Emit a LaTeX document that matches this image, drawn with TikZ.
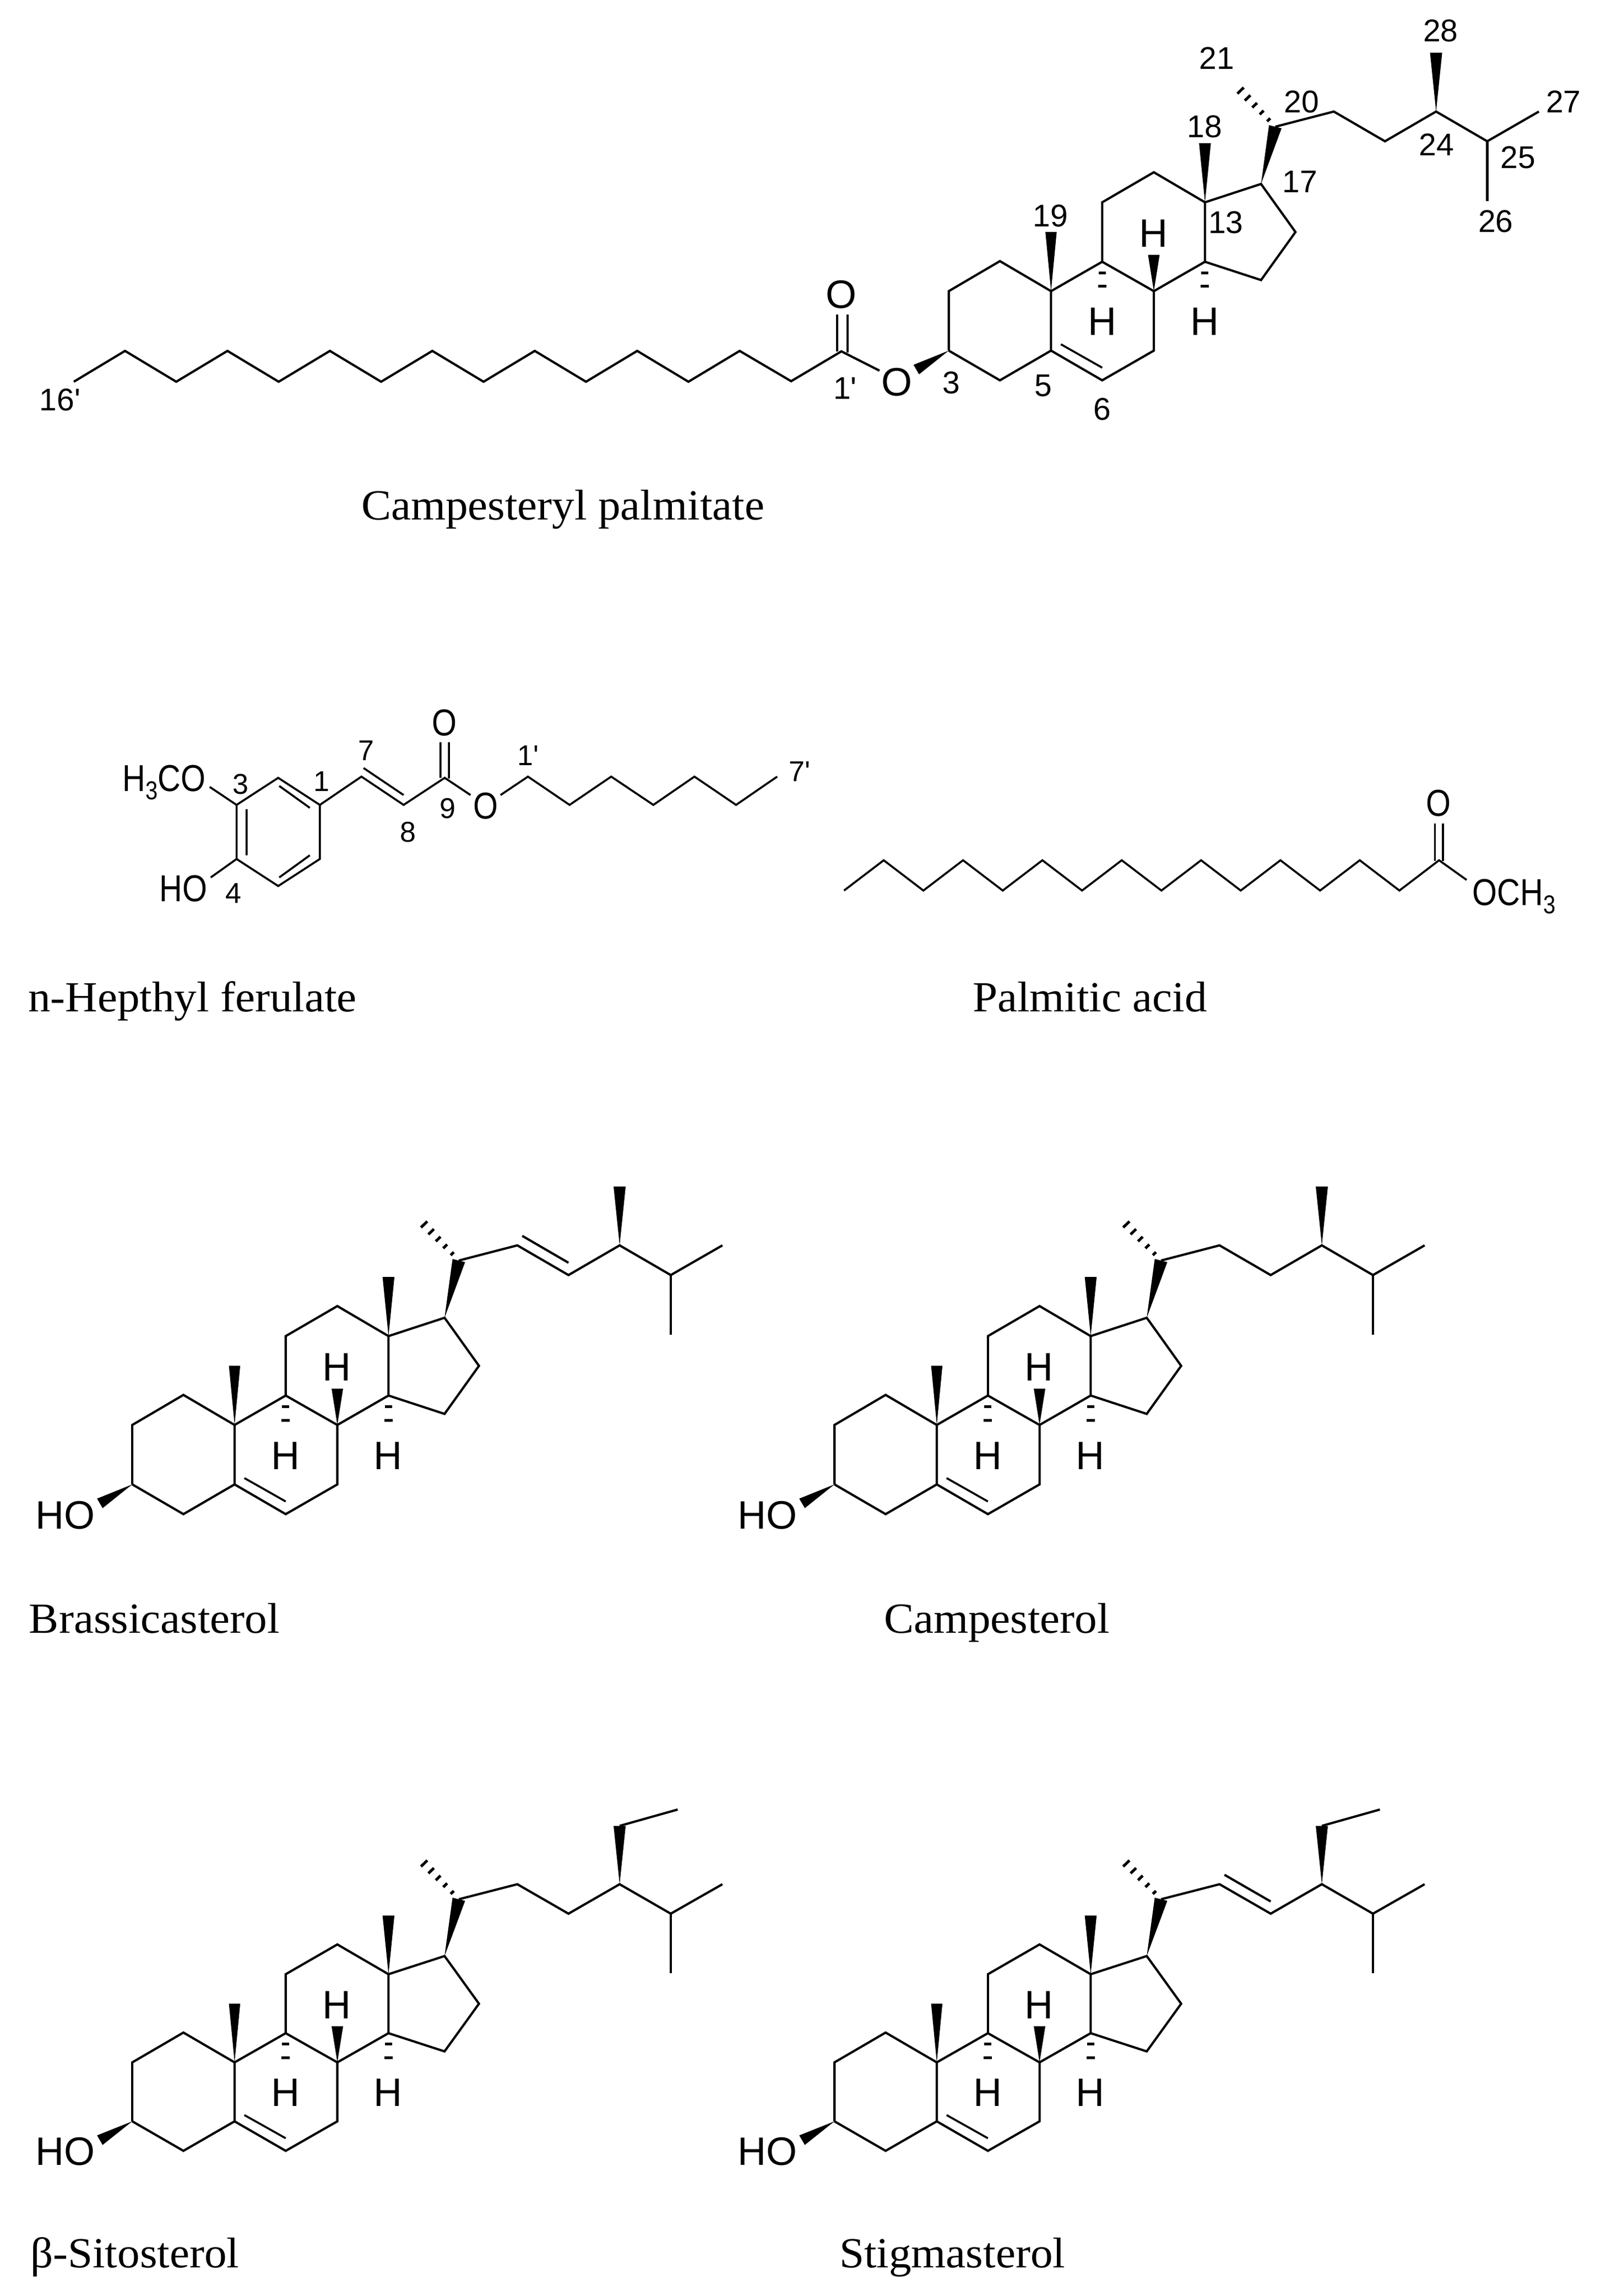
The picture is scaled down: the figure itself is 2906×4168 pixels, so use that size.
\documentclass[tikz,border=0pt]{standalone}
\usepackage{fontspec}
\usetikzlibrary{calc}
\newfontfamily\lab{Liberation Sans}
\newfontfamily\labn[FakeStretch=.85]{Liberation Sans}
\newfontfamily\capf[FakeStretch=1.04]{Liberation Serif}
\tikzset{
  bond/.style={line width=.82pt,line join=miter},
  thinbond/.style={line width=.72pt,line join=miter},
  hash/.style={line width=1pt},
  num/.style={inner sep=0pt,font=\lab\fontsize{11.4}{13}\selectfont},
  smallnum/.style={inner sep=0pt,font=\lab\fontsize{10.4}{13}\selectfont},
  atomlab/.style={inner sep=0pt,font=\lab\fontsize{14.4}{17}\selectfont},
  narlab/.style={inner sep=0pt,font=\labn\fontsize{13.6}{16}\selectfont},
  capt/.style={inner sep=0pt,anchor=base west,font=\capf\fontsize{15.6}{18}\selectfont}
}
\newcommand\wedgebond[3]{\fill (#1) -- ($(#2)!#3!90:(#1)$) -- ($(#2)!#3!-90:(#1)$) -- cycle;}
\newcommand\hashes[3]{%
  \foreach \f/\w in {#3}{%
    \coordinate (hh) at ($(#1)!\f!(#2)$);
    \draw[hash] ($(hh)!\w!90:(#2)$) -- ($(hh)!\w!-90:(#2)$);
  }}
% steroid skeleton with side chain; #1,#2 origin; #3 vertical scale
\newcommand\sterol[3]{%
\begin{scope}[shift={(#1,#2)},xscale=.8929,yscale=#3]
  \coordinate (C1) at (373,753);  \coordinate (C2) at (269,848);
  \coordinate (C3) at (269,1036); \coordinate (C4) at (373,1130);
  \coordinate (C5) at (477,1036); \coordinate (C6) at (581,1130);
  \coordinate (C7) at (686,1036); \coordinate (C8) at (686,848);
  \coordinate (C9) at (581,755);  \coordinate (C10) at (477,848);
  \coordinate (C11) at (581,567); \coordinate (C12) at (686,472);
  \coordinate (C13) at (790,567); \coordinate (C14) at (790,755);
  \coordinate (C15) at (904,813); \coordinate (C16) at (974,661);
  \coordinate (C17) at (904,509); \coordinate (C18) at (790,380);
  \coordinate (C19) at (477,661); \coordinate (C20) at (933,328);
  \coordinate (C21) at (849,192); \coordinate (C22) at (1052,280);
  \coordinate (C23) at (1156,374);\coordinate (C24) at (1260,280);
  \coordinate (C25) at (1364,374);\coordinate (C26) at (1364,563);
  \coordinate (C27) at (1469,280);\coordinate (C28) at (1260,94);
  \coordinate (Et) at (1378,42);
  \coordinate (OH) at (203,1096);
  \coordinate (Hb) at (686,733);
  \coordinate (Ha9) at (581,877); \coordinate (Ha14) at (790,877);
  \coordinate (dbA) at (497,1016);\coordinate (dbB) at (581,1090);
  \coordinate (dsA) at (1062,250);\coordinate (dsB) at (1156,335);
  \coordinate (HOpos) at (133,1133);
  \node[atomlab] (Hu) at (685,665) {H};
  \node[atomlab] (Hl) at (581,945) {H};
  \node[atomlab] (Hr) at (789,945) {H};
\end{scope}
\draw[bond] (C3) -- (C2) -- (C1) -- (C10) -- (C5) -- (C4) -- (C3);
\draw[bond] (C5) -- (C6) -- (C7) -- (C8) -- (C9) -- (C10);
\draw[bond] (C9) -- (C11) -- (C12) -- (C13) -- (C14) -- (C8);
\draw[bond] (C13) -- (C17) -- (C16) -- (C15) -- (C14);
\draw[bond] (C20) -- (C22) -- (C23) -- (C24) -- (C25) -- (C27);
\draw[bond] (C25) -- (C26);
\draw[thinbond] (dbA) -- (dbB);
\wedgebond{C10}{C19}{2.05pt}
\wedgebond{C13}{C18}{2.15pt}
\wedgebond{C8}{Hb}{2.1pt}
\wedgebond{C17}{C20}{2.35pt}
\wedgebond{C24}{C28}{2.2pt}
\wedgebond{C3}{OH}{2pt}
\hashes{C9}{Ha9}{.287/1.3pt,.64/1.5pt,1/1.7pt}
\hashes{C14}{Ha14}{.287/1.3pt,.64/1.5pt,1/1.7pt}
\hashes{C20}{C21}{.16/.8pt,.33/1.0pt,.5/1.2pt,.67/1.4pt,.84/1.6pt,1/1.8pt}
}
\begin{document}
\begin{tikzpicture}[x=0.2pt,y=-0.2pt]
\fill[white] (0,0) rectangle (2906,4168);
\useasboundingbox (0,0) rectangle (2906,4168);

% ---------- Campesteryl palmitate
\sterol{1482.5}{41.8}{.574}
\begin{scope}[shift={(1400,0)},xscale=.9604,yscale=.6378]
  \coordinate (co) at (133,1000);
  \coordinate (ch) at (38,1085);
  \coordinate (oa) at (125,895); \coordinate (ob) at (145,895);
  \coordinate (ca) at (125,1000); \coordinate (cb) at (145,1004);
  \coordinate (es) at (205,1055);
  \node[atomlab] (O1) at (133,838) {O};
  \node[atomlab] (O2) at (238,1088) {O};
  \node[num] (n21) at (843,165) {21};
  \node[num] (n28) at (1266,88) {28};
  \node[num] (n27) at (1498,290) {27};
  \node[num] (n20) at (1003,290) {20};
  \node[num] (n18) at (820,360) {18};
  \node[num] (n24) at (1258,412) {24};
  \node[num] (n25) at (1412,448) {25};
  \node[num] (n17) at (1000,517) {17};
  \node[num] (n26) at (1370,630) {26};
  \node[num] (n13) at (860,633) {13};
  \node[num] (n19) at (528,615) {19};
  \node[num] (n3) at (341,1090) {3};
  \node[num] (n5) at (515,1098) {5};
  \node[num] (n6) at (626,1165) {6};
  \node[num] (n1p) at (140,1105) {1'};
\end{scope}
\draw[bond] (134,693) -- (227,637) -- (320,693) -- (413,637) -- (506,693) -- (599,637)
  -- (692,693) -- (785,637) -- (878,693) -- (971,637) -- (1064,693) -- (1157,637)
  -- (1250,693) -- (1343,637) -- (ch) -- (co) -- (es);
\draw[bond] (oa) -- (ca) (ob) -- (cb);
\node[num] (n16p) at (109,726) {16'};
\node[capt] (capA) at (655,943) {Campesteryl palmitate};

% ---------- n-Hepthyl ferulate
\begin{scope}[shift={(0,1200)},xscale=.9567,yscale=.4464]
  \coordinate (f3) at (449,585); \coordinate (f4) at (449,805);
  \coordinate (f5) at (528,915); \coordinate (f6) at (607,805);
  \coordinate (f1) at (607,585); \coordinate (f2) at (528,475);
  \coordinate (f7) at (686,470); \coordinate (f8) at (766,585);
  \coordinate (f9) at (844,475);
  \coordinate (fOa) at (398,512); \coordinate (fOb) at (400,880);
  \coordinate (fE1) at (893,545); \coordinate (fE2) at (950,545);
  \coordinate (h1) at (1002,470); \coordinate (h2) at (1081,585);
  \coordinate (h3) at (1160,470); \coordinate (h4) at (1240,585);
  \coordinate (h5) at (1318,470); \coordinate (h6) at (1397,585);
  \coordinate (h7) at (1475,470);
  \coordinate (i1) at (530,508); \coordinate (i2) at (588,597);
  \coordinate (i3) at (468,603); \coordinate (i4) at (468,790);
  \coordinate (i5) at (530,880); \coordinate (i6) at (588,790);
  \coordinate (i7) at (690,435); \coordinate (i8) at (766,545);
  \coordinate (d1) at (836,330); \coordinate (d2) at (836,475);
  \coordinate (d3) at (852,330); \coordinate (d4) at (852,478);
  \node[narlab] (fO) at (844,252) {O};
  \node[narlab] (fOe) at (922,590) {O};
  \node[narlab,anchor=base west] (fMeO) at (232,530) {H\raisebox{-.22em}{\fontsize{9.4}{10}\selectfont 3}CO};
  \node[narlab,anchor=base west] (fHO) at (302,978) {HO};
  \node[smallnum] (m3) at (457,500) {3};
  \node[smallnum] (m1) at (610,490) {1};
  \node[smallnum] (m4) at (443,945) {4};
  \node[smallnum] (m7) at (695,365) {7};
  \node[smallnum] (m8) at (775,695) {8};
  \node[smallnum] (m9) at (850,600) {9};
  \node[smallnum] (m1p) at (1002,385) {1'};
  \node[smallnum] (m7p) at (1518,450) {7'};
\end{scope}
\draw[thinbond] (f3) -- (f4) -- (f5) -- (f6) -- (f1) -- (f2) -- cycle;
\draw[thinbond] (i1) -- (i2) (i3) -- (i4) (i5) -- (i6);
\draw[thinbond] (fOa) -- (f3) (f4) -- (fOb);
\draw[thinbond] (f1) -- (f7) -- (f8) -- (f9) -- (fE1);
\draw[thinbond] (i7) -- (i8) (d1) -- (d2) (d3) -- (d4);
\draw[thinbond] (fE2) -- (h1) -- (h2) -- (h3) -- (h4) -- (h5) -- (h6) -- (h7);
\node[capt] (capB) at (50,1836) {n-Hepthyl ferulate};

% ---------- Palmitic acid
\begin{scope}[shift={(1400,1350)},xscale=.9604,yscale=.3333]
  \coordinate (pC) at (1263,635);
  \coordinate (pE) at (1315,742);
  \coordinate (pa) at (1255,435); \coordinate (pb) at (1255,638);
  \coordinate (pc) at (1270,435); \coordinate (pd) at (1270,640);
  \node[narlab] (pO) at (1262,325) {O};
  \node[narlab,anchor=base west] (pOMe) at (1325,880) {OCH\raisebox{-.22em}{\fontsize{9.4}{10}\selectfont 3}};
  \draw[thinbond] (138,800) -- (213,635) -- (288,800) -- (363,635) -- (438,800) -- (513,635)
    -- (588,800) -- (663,635) -- (738,800) -- (813,635) -- (888,800) -- (963,635)
    -- (1038,800) -- (1113,635) -- (1188,800) -- (pC) -- (pE);
  \draw[thinbond] (pa) -- (pb) (pc) -- (pd);
\end{scope}
\node[capt] (capC) at (1765,1836) {Palmitic acid};

% ---------- Brassicasterol
\sterol{0}{2100}{.574}
\draw[bond] (dsA) -- (dsB);
\node[atomlab] (hoB) at (HOpos) {HO};
\node[capt] (capD) at (52,2964) {Brassicasterol};

% ---------- Campesterol
\sterol{1275}{2100}{.574}
\node[atomlab] (hoC) at (HOpos) {HO};
\node[capt] (capE) at (1604,2964) {Campesterol};

% ---------- beta-Sitosterol
\sterol{0}{3261}{.5694}
\draw[bond] (C28) -- (Et);
\node[atomlab] (hoS) at (HOpos) {HO};
\node[capt] (capF) at (54,4116) {β-Sitosterol};

% ---------- Stigmasterol
\sterol{1275}{3261}{.5694}
\draw[bond] (C28) -- (Et);
\draw[bond] (dsA) -- (dsB);
\node[atomlab] (hoT) at (HOpos) {HO};
\node[capt] (capG) at (1523,4116) {Stigmasterol};
\end{tikzpicture}
\end{document}
